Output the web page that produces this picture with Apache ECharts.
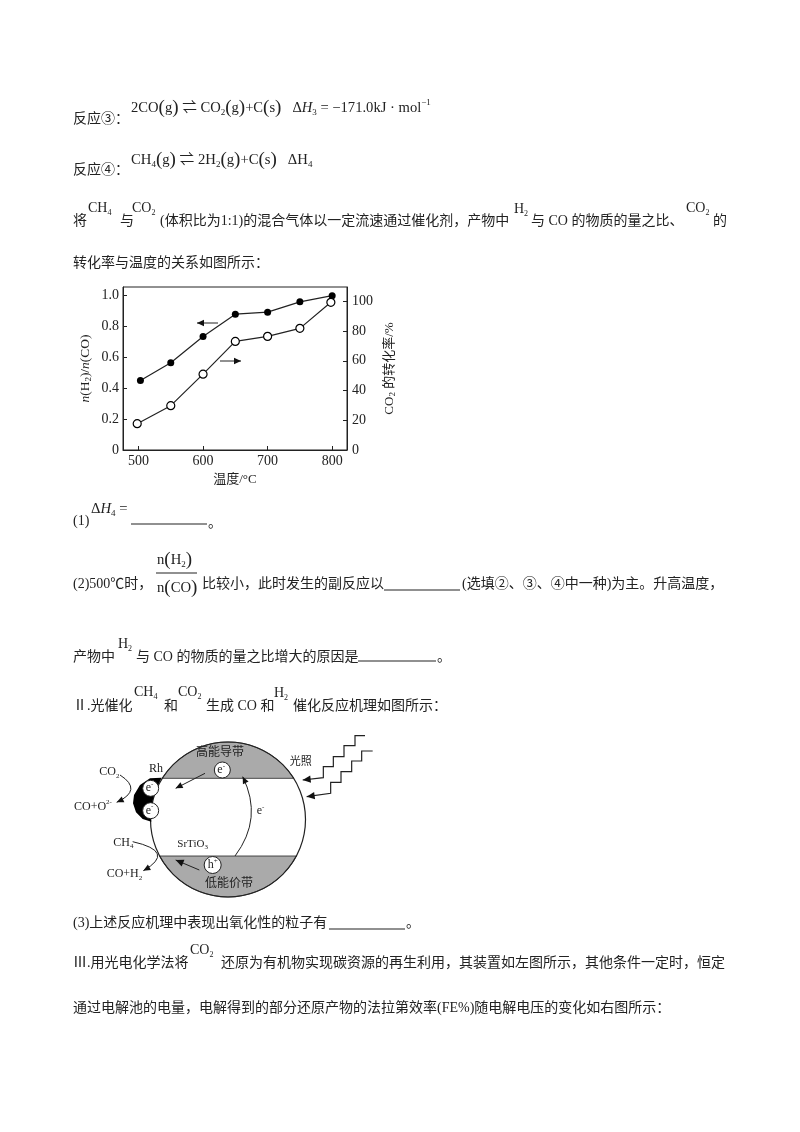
<!DOCTYPE html>
<html>
<head>
<meta charset="utf-8">
<style>html,body{margin:0;padding:0;background:#fff}#chart{width:800px;height:1132px}</style>
<script src="https://cdn.jsdelivr.net/npm/echarts@6/dist/echarts.min.js"></script>
</head>
<body>
<div id="chart"></div>
<script>
// values
var ratioTemps = [503, 550, 600, 650, 700, 750, 800];
var ratioValues = [0.45, 0.565, 0.735, 0.88, 0.893, 0.96, 1.0];
var convTemps = [498, 550, 600, 650, 700, 750, 798];
var convValues = [17.7, 29.8, 51, 73, 76.4, 81.8, 99.3];
var tempTicks = [500, 600, 700, 800];
var ratioTicks = [0, 0.2, 0.4, 0.6, 0.8, 1.0];
var convTicks = [0, 20, 40, 60, 80, 100];

var FONT = '"Liberation Serif","Noto Sans CJK SC","DejaVu Sans",serif';
var INK = '#222';
var GRAY = '#aaaaaa';
var els = [];
var ctx = document.createElement('canvas').getContext('2d');

function fontOf(size, italic) {
    return (italic ? 'italic ' : '') + size + 'px ' + FONT;
}

function text(x, y, t, size, italic, align) {
    els.push({
        type: 'text', z: 10,
        style: {
            text: t, x: x, y: y, font: fontOf(size, italic), fill: INK,
            textAlign: align || 'left', textVerticalAlign: 'middle'
        }
    });
}

// text run: strings, or {t, sub, sup, it, size}, drawn one after another
function run(x, y, parts, size) {
    size = size || 14;
    parts.forEach(function (p) {
        if (typeof p === 'string') p = { t: p };
        var s = p.size || ((p.sub || p.sup) ? Math.round(size * 0.6) : size);
        var dy = p.sub ? size * 0.32 : (p.sup ? -size * 0.36 : 0);
        text(x, y + dy, p.t, s, p.it);
        ctx.font = fontOf(s, p.it);
        x += ctx.measureText(p.t).width + (p.gap || 0);
    });
}

function rule(x1, x2, y) {
    els.push({ type: 'line', z: 10, shape: { x1: x1, y1: y, x2: x2, y2: y }, style: { stroke: INK, lineWidth: 1.2 } });
}

function head(x, y, fromX, fromY, size) {
    var a = Math.atan2(y - fromY, x - fromX), s = size || 6;
    els.push({
        type: 'polygon', z: 11,
        shape: { points: [[x, y],
            [x - s * Math.cos(a) + s * 0.45 * Math.sin(a), y - s * Math.sin(a) - s * 0.45 * Math.cos(a)],
            [x - s * Math.cos(a) - s * 0.45 * Math.sin(a), y - s * Math.sin(a) + s * 0.45 * Math.cos(a)]] },
        style: { fill: '#111' }
    });
}

function arrow(x1, y1, x2, y2, size) {
    els.push({ type: 'line', z: 10, shape: { x1: x1, y1: y1, x2: x2, y2: y2 }, style: { stroke: INK, lineWidth: 1 } });
    head(x2, y2, x1, y1, size);
}

function curve(x1, y1, cx, cy, x2, y2) {
    els.push({
        type: 'bezierCurve', z: 10,
        shape: { x1: x1, y1: y1, cpx1: cx, cpy1: cy, x2: x2, y2: y2 },
        style: { stroke: INK, lineWidth: 1, fill: null }
    });
    head(x2, y2, cx, cy, 7);
}

var C = { t: ')', size: 19 };
function g(s) { return [{ t: '(', size: 19 }, s, { t: ')', size: 19 }]; }

// page text
text(73, 119, '反应③：', 14);
run(131, 108, ['2CO'].concat(g('g'), [' ⇌ CO', { t: '2', sub: 1 }], g('g'), ['+C'], g('s'), ['   Δ', { t: 'H', it: 1 }, { t: '3', sub: 1 }, ' = −171.0kJ · mol', { t: '−1', sup: 1 }]), 14.6);
text(73, 170, '反应④：', 14);
run(131, 160, ['CH', { t: '4', sub: 1 }].concat(g('g'), [' ⇌ 2H', { t: '2', sub: 1 }], g('g'), ['+C'], g('s'), ['   ΔH', { t: '4', sub: 1 }]), 14.7);

text(73, 221, '将', 14);
run(88, 208, ['CH', { t: '4', sub: 1 }]);
text(120, 221, '与', 14);
run(132, 208, ['CO', { t: '2', sub: 1 }]);
text(160, 221, '(体积比为1:1)的混合气体以一定流速通过催化剂，产物中', 14);
run(514, 209, ['H', { t: '2', sub: 1 }]);
text(531, 221, '与 CO 的物质的量之比、', 14);
run(686, 208, ['CO', { t: '2', sub: 1 }]);
text(713, 221, '的', 14);
text(73, 263, '转化率与温度的关系如图所示：', 14);

text(73, 521, '(1)', 14);
run(91, 509, ['Δ', { t: 'H', it: 1 }, { t: '4', sub: 1 }, ' ='], 14.7);
rule(131, 207, 524);
text(208, 523, '。', 14);

text(73, 584, '(2)500℃时，', 14);
run(157, 560, ['n', { t: '(', size: 19 }, 'H', { t: '2', sub: 1 }, C], 14.7);
rule(156, 197, 573);
run(157, 588, ['n'].concat(g('CO')), 14.7);
text(202, 584, '比较小，此时发生的副反应以', 14);
rule(384, 460, 590);
text(462, 584, '(选填②、③、④中一种)为主。升高温度，', 14);

text(73, 657, '产物中', 14);
run(118, 644, ['H', { t: '2', sub: 1 }]);
text(136, 657, '与 CO 的物质的量之比增大的原因是', 14);
rule(358, 436, 661);
text(437, 657, '。', 14);

text(73, 706, 'Ⅱ.光催化', 14);
run(134, 692, ['CH', { t: '4', sub: 1 }]);
text(164, 706, '和', 14);
run(178, 692, ['CO', { t: '2', sub: 1 }]);
text(206, 706, '生成 CO 和', 14);
run(274, 693, ['H', { t: '2', sub: 1 }]);
text(293, 706, '催化反应机理如图所示：', 14);

text(73, 923, '(3)上述反应机理中表现出氧化性的粒子有', 14);
rule(329, 405, 929);
text(406, 923, '。', 14);
text(73, 963, 'Ⅲ.用光电化学法将', 14);
run(190, 950, ['CO', { t: '2', sub: 1 }]);
text(221, 963, '还原为有机物实现碳资源的再生利用，其装置如左图所示，其他条件一定时，恒定', 14);
text(73, 1008, '通过电解池的电量，电解得到的部分还原产物的法拉第效率(FE%)随电解电压的变化如右图所示：', 14);

// mechanism sketch, coordinates taken from the 3x crop at (60,725)
function zx(x) { return 60 + x / 3; }
function zy(y) { return 725 + y / 3; }
var cx = 228, cy = 819.5, r = 77.5;

function segment(chordY, top) {
    var a = Math.asin((chordY - cy) / r), pts = [], i, t;
    for (i = 0; i <= 40; i++) {
        t = top ? (Math.PI - a) + (Math.PI + 2 * a) * i / 40 : a + (Math.PI - 2 * a) * i / 40;
        pts.push([cx + r * Math.cos(t), cy + r * Math.sin(t)]);
    }
    els.push({ type: 'polygon', z: 2, shape: { points: pts }, style: { fill: GRAY, stroke: INK, lineWidth: 0.8 } });
}
segment(zy(160), true);
segment(zy(393), false);
els.push({ type: 'circle', z: 3, shape: { cx: cx, cy: cy, r: r }, style: { fill: null, stroke: INK, lineWidth: 1.2 } });

// Rh crescent
els.push({
    type: 'polygon', z: 4,
    shape: {
        points: [[zx(305), zy(158)], [zx(270), zy(160)], [zx(240), zy(180)], [zx(222), zy(210)], [zx(219), zy(235)],
            [zx(228), zy(262)], [zx(248), zy(282)], [zx(274), zy(290)], [zx(272), zy(250)], [zx(285), zy(200)]]
    },
    style: { fill: '#000' }
});

function ball(x, y, rad, label, sup) {
    els.push({ type: 'circle', z: 5, shape: { cx: zx(x), cy: zy(y), r: rad }, style: { fill: '#fff', stroke: INK, lineWidth: 1 } });
    run(zx(x) - 5, zy(y), [label, { t: sup, sup: 1 }], 12);
}
ball(272, 190, 8, 'e', '-');
ball(272, 257, 8, 'e', '-');
ball(487, 135, 8, 'e', '-');
ball(458, 420, 8.5, 'h', '+');

text(zx(480), zy(85), '高能导带', 12, false, 'center');
text(zx(507), zy(478), '低能价带', 12, false, 'center');
text(zx(722), zy(112), '光照', 11, false, 'center');
text(zx(288), zy(133), 'Rh', 12, false, 'center');
run(zx(118), zy(142), ['CO', { t: '2', sub: 1 }], 12);
run(zx(42), zy(245), ['CO+O', { t: '2-', sup: 1 }], 12);
run(zx(160), zy(353), ['CH', { t: '4', sub: 1 }], 12);
run(zx(352), zy(357), ['SrTiO', { t: '3', sub: 1 }], 11);
run(zx(140), zy(447), ['CO+H', { t: '2', sub: 1 }], 12);
run(zx(590), zy(258), ['e', { t: '-', sup: 1 }], 12);

arrow(zx(435), zy(145), zx(347), zy(190), 7);
arrow(zx(418), zy(435), zx(347), zy(405), 8);
curve(zx(525), zy(393), zx(610), zy(280), zx(548), zy(155));
curve(zx(180), zy(150), zx(250), zy(195), zx(170), zy(232));
curve(zx(218), zy(350), zx(350), zy(380), zx(250), zy(437));

function zigzag(pts) {
    els.push({
        type: 'polyline', z: 10,
        shape: { points: pts.map(function (p) { return [zx(p[0]), zy(p[1])]; }) },
        style: { stroke: INK, lineWidth: 1.2, fill: null }
    });
    var n = pts.length;
    head(zx(pts[n - 1][0]), zy(pts[n - 1][1]), zx(pts[n - 2][0]), zy(pts[n - 2][1]), 8);
}
zigzag([[915, 32], [885, 32], [885, 62], [852, 62], [852, 95], [820, 95], [820, 125], [790, 125], [790, 158], [728, 165]]);
zigzag([[938, 78], [905, 78], [905, 108], [875, 108], [875, 140], [843, 140], [843, 172], [812, 172], [812, 205], [740, 215]]);

// arrows inside the plot
arrow(218, 323, 197, 323, 7);
arrow(220, 361, 241, 361, 7);

var axisText = { fontFamily: FONT, fontSize: 14, color: INK };
var nameRich = {
    i: { fontFamily: FONT, fontSize: 13.5, fontStyle: 'italic', color: INK },
    s: { fontFamily: FONT, fontSize: 9, color: INK, padding: [6, 0, 0, 0] }
};

var option = {
    animation: false,
    backgroundColor: '#fff',
    grid: { left: 123, top: 287, width: 224, height: 163, show: true, borderColor: INK, borderWidth: 1, backgroundColor: 'transparent' },
    xAxis: {
        type: 'value', min: 476, max: 823,
        splitLine: { show: false },
        axisLine: { lineStyle: { color: INK } },
        axisTick: { inside: true, length: 4, customValues: tempTicks, lineStyle: { color: INK } },
        axisLabel: Object.assign({ customValues: tempTicks, margin: 4 }, axisText),
        name: '温度/°C', nameLocation: 'middle', nameGap: 23,
        nameTextStyle: { fontFamily: FONT, fontSize: 13, color: INK }
    },
    yAxis: [{
        type: 'value', min: 0, max: 1.056,
        splitLine: { show: false },
        axisLine: { show: true, lineStyle: { color: INK } },
        axisTick: { show: true, inside: true, length: 4, customValues: ratioTicks, lineStyle: { color: INK } },
        axisLabel: Object.assign({
            customValues: ratioTicks, margin: 4,
            formatter: function (v) { return v === 0 ? '0' : v.toFixed(1); }
        }, axisText),
        name: '{i|n}(H{s|2})/{i|n}(CO)', nameLocation: 'middle', nameRotate: 90, nameGap: 30,
        nameTextStyle: { fontFamily: FONT, fontSize: 13.5, color: INK, rich: nameRich }
    }, {
        type: 'value', min: 0, max: 109.6, position: 'right',
        splitLine: { show: false },
        axisLine: { show: true, lineStyle: { color: INK } },
        axisTick: { show: true, inside: true, length: 4, customValues: convTicks, lineStyle: { color: INK } },
        axisLabel: Object.assign({ customValues: convTicks, margin: 5 }, axisText),
        name: 'CO{s|2} 的转化率/%', nameLocation: 'middle', nameRotate: 90, nameGap: 35,
        nameTextStyle: { fontFamily: FONT, fontSize: 13, color: INK, rich: nameRich }
    }],
    series: [{
        type: 'line', yAxisIndex: 0,
        data: ratioTemps.map(function (t, i) { return [t, ratioValues[i]]; }),
        symbol: 'circle', symbolSize: 7,
        lineStyle: { color: INK, width: 1.2 },
        itemStyle: { color: '#000', borderColor: '#000', borderWidth: 0 }
    }, {
        type: 'line', yAxisIndex: 1,
        data: convTemps.map(function (t, i) { return [t, convValues[i]]; }),
        symbol: 'circle', symbolSize: 8,
        lineStyle: { color: INK, width: 1.2 },
        itemStyle: { color: '#fff', borderColor: '#000', borderWidth: 1.2 }
    }],
    graphic: { elements: els }
};

var chart = echarts.init(document.getElementById('chart'));
chart.setOption(option);
</script>
</body>
</html>
